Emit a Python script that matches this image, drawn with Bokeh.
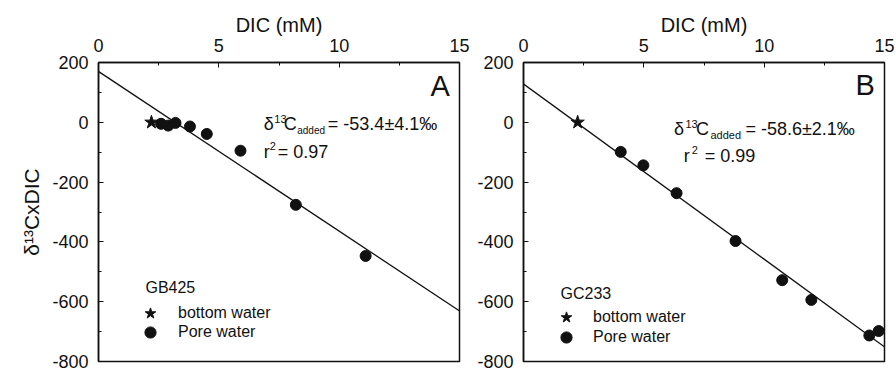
from bokeh.plotting import figure
from bokeh.layouts import row
from bokeh.models import Range1d, Slope, Legend, LegendItem
from bokeh.core.properties import value
from bokeh.embed import file_html
from bokeh.resources import INLINE

FONT = "Liberation Sans"
INK = "#111111"

# ---------------- data ----------------
x_ticks = [0, 5, 10, 15]
x_minor = [2.5, 7.5, 12.5]
y_ticks = [-800, -600, -400, -200, 0, 200]
y_tick_labels = ["-800", "-600", "-400", "-200", "0", "200"]
y_minor = [-700, -500, -300, -100, 100]

# Panel A (GB425)
a_bottom_x = [2.2]
a_bottom_y = [0]
a_pore_x = [2.6, 2.9, 3.2, 3.8, 4.5, 5.9, 8.2, 11.1]
a_pore_y = [-5, -11, -2, -14, -39, -95, -276, -447]
a_slope = -53.4
a_intercept = 170
a_site = "GB425"
a_eq = "= -53.4\u00b14.1\u2030"
a_r2 = "= 0.97"

# Panel B (GC233)
b_bottom_x = [2.25]
b_bottom_y = [0]
b_pore_x = [4.04, 4.98, 6.36, 8.81, 10.75, 11.96, 14.37, 14.76]
b_pore_y = [-99, -144, -237, -397, -528, -594, -713, -698]
b_slope = -58.6
b_intercept = 128
b_site = "GC233"
b_eq = "= -58.6\u00b12.1\u2030"
b_r2 = "= 0.99"


def txt(p, x, y, t, size, dx=0, dy=0, align="left", baseline="middle"):
    p.text(x=[x], y=[y], text=[t], x_offset=dx, y_offset=dy,
           text_font=value(FONT), text_font_size=size, text_color=INK,
           text_baseline=baseline, text_align=align)


def make_panel(width, left, right, ylabel, bx, by, px, py, slope, intercept,
               site, eq, r2, letter, eq_anchor, eq_offsets, r2_anchor, r2_offsets,
               letter_anchor, site_anchor, legend_x, legend_ys, label_standoff):
    p = figure(width=width, height=372, output_backend="svg", toolbar_location=None,
               x_range=Range1d(0, 15), y_range=Range1d(-800, 200),
               x_axis_location="above",
               min_border_left=left, min_border_right=right,
               min_border_top=62, min_border_bottom=11)
    p.background_fill_color = "white"
    p.border_fill_color = "white"
    p.grid.visible = False
    p.outline_line_color = INK
    p.outline_line_width = 1.5
    p.outline_line_alpha = 1.0

    for ax in (p.xaxis[0], p.yaxis[0]):
        ax.axis_line_width = 1.5
        ax.axis_line_color = INK
        ax.major_tick_in = 5
        ax.major_tick_out = 0
        ax.minor_tick_in = 3
        ax.minor_tick_out = 0
        ax.major_tick_line_color = INK
        ax.minor_tick_line_color = INK
        ax.major_label_text_font = FONT
        ax.major_label_text_font_size = "18px"
        ax.major_label_text_color = INK
        ax.axis_label_text_font = FONT
        ax.axis_label_text_font_style = "normal"
        ax.axis_label_text_color = INK

    p.xaxis.ticker = x_ticks
    p.xaxis[0].ticker.minor_ticks = x_minor
    p.yaxis.ticker = y_ticks
    p.yaxis[0].ticker.minor_ticks = y_minor
    p.yaxis.major_label_overrides = dict(zip(y_ticks, y_tick_labels))
    p.xaxis.axis_label = "DIC (mM)"
    p.xaxis.axis_label_text_font_size = "20px"
    p.xaxis.axis_label_standoff = 0
    p.xaxis.major_label_standoff = 11
    p.yaxis.major_label_standoff = 10

    if ylabel:
        p.yaxis.axis_label = ylabel
        p.yaxis.axis_label_text_font_size = "21px"
        p.yaxis.axis_label_standoff = 6

    p.add_layout(Slope(gradient=slope, y_intercept=intercept,
                       line_color=INK, line_width=1.3))

    star = p.scatter(bx, by, marker="star", size=14, color=INK)
    dots = p.scatter(px, py, marker="circle", size=11, color=INK)

    # annotation: delta13C_added = ..., r^2 = ...
    ex, ey = eq_anchor
    o = eq_offsets
    for t, dx, dy, fs in [("\u03b4", 0, 0, "18px"), ("13", o[0], -5, "11px"),
                          ("C", o[1], 0, "18px"), ("added", o[2], 6, o[4]),
                          (eq, o[3], 0, "18px")]:
        txt(p, ex, ey, t, fs, dx=dx, dy=dy)
    rx, ry = r2_anchor
    for t, dx, dy, fs in [("r", 0, 0, "18px"), ("2", r2_offsets[0], -6, "11px"),
                          (r2, r2_offsets[1], 0, "18px")]:
        txt(p, rx, ry, t, fs, dx=dx, dy=dy)

    lx, ly = letter_anchor
    txt(p, lx, ly, letter, "29px")

    sx, sy = site_anchor
    txt(p, sx, sy, site, "16px")

    for item, ly_ in zip([LegendItem(label="bottom water", renderers=[star]),
                          LegendItem(label="Pore water", renderers=[dots])], legend_ys):
        legend = Legend(items=[item], location=(legend_x, ly_),
                        glyph_width=28, glyph_height=28,
                        padding=0, margin=0, border_line_color=None,
                        background_fill_alpha=0, label_standoff=label_standoff,
                        label_text_font=FONT, label_text_font_size="16px",
                        label_text_color=INK)
        p.add_layout(legend)
    return p


pa = make_panel(470, 98, 11, "\u03b4\u00b9\u00b3CxDIC",
                a_bottom_x, a_bottom_y, a_pore_x, a_pore_y, a_slope, a_intercept,
                a_site, a_eq, a_r2, "A",
                eq_anchor=(6.87, -7), eq_offsets=(10.5, 20, 33.4, 64, "10px"),
                r2_anchor=(6.87, -98), r2_offsets=(6, 14),
                letter_anchor=(13.79, 123), site_anchor=(1.95, -554),
                legend_x=38, legend_ys=(34, 15), label_standoff=14)

pb = make_panel(426, 53, 12, None,
                b_bottom_x, b_bottom_y, b_pore_x, b_pore_y, b_slope, b_intercept,
                b_site, b_eq, b_r2, "B",
                eq_anchor=(6.25, -24), eq_offsets=(11.5, 22, 36.5, 71.5, "11px"),
                r2_anchor=(6.66, -114), r2_offsets=(8, 21),
                letter_anchor=(13.79, 126), site_anchor=(1.54, -573),
                legend_x=29, legend_ys=(30, 10), label_standoff=13)

layout = row(pa, pb)
open("out.html", "w").write(file_html(layout, INLINE))
